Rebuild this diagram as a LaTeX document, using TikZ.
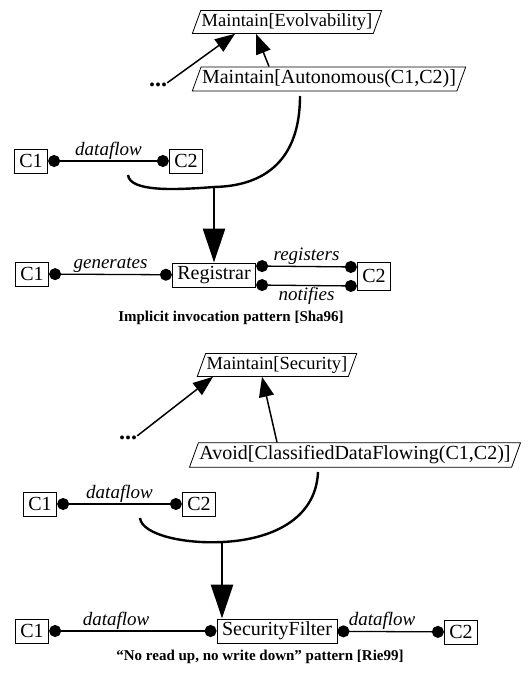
\documentclass[tikz,border=0pt]{standalone}
\usepackage{fontspec}
\setmainfont{Liberation Serif}
\usepackage{tikz}
\usetikzlibrary{
    shapes.geometric,
    arrows.meta,
    positioning
}
\newcommand{\compfont}{\fontsize{20}{22}\selectfont}
\tikzstyle{comp} = [
    rectangle, draw,
    line width=0.9pt,
    inner xsep=5pt, inner ysep=0pt,
    minimum height=24pt,
    font=\compfont
]
\tikzstyle{goal} = [
    trapezium, draw,
    trapezium left angle=70,
    trapezium right angle=110,
    line width=0.8pt,
    inner xsep=1pt, inner ysep=3pt,
    font=\compfont
]
\tikzstyle{topgoal} = [
    goal,
    font=\fontsize{18.5}{20}\selectfont
]
\tikzstyle{link} = [
    line width=1.3pt,
    {Circle[length=12pt,width=12pt]}-{Circle[length=12pt,width=12pt]}
]
\tikzstyle{lbl} = [
    font=\fontsize{19}{20}\selectfont\itshape,
    inner sep=1pt
]
\tikzstyle{refine} = [
    line width=1.5pt,
    -{Triangle[length=20pt,width=15pt]}
]
\tikzstyle{merge} = [
    line width=2.4pt
]
\tikzstyle{derive} = [
    line width=2.4pt,
    -{Triangle[length=34pt,width=22pt]}
]
\tikzstyle{caption} = [
    font=\fontsize{15}{17}\selectfont\bfseries
]
\tikzstyle{more} = [
    inner sep=0pt,
    font=\fontsize{24}{24}\selectfont\bfseries
]

\begin{document}
\begin{tikzpicture}[x=1pt, y=-1pt]
    \useasboundingbox (0,0) rectangle (529,682);

    % implicit invocation
    \node[topgoal] (evo)  at (287,22)  {Maintain[Evolvability]};
    \node[more]    (dots1) at (158,85) {...};
    \node[goal]    (auto) at (329,79)  {Maintain[Autonomous(C1,C2)]};
    \draw[refine] (dots1.north east) -- ([xshift=-52pt]evo.south);
    \draw[refine] ([xshift=-60pt]auto.north) -- ([xshift=-31pt]evo.south);

    \node[comp] (c1a) at (31,161)  {C1};
    \node[comp] (c2a) at (186,161) {C2};
    \draw[link] (c1a) -- node[lbl, above] {dataflow} (c2a);

    \coordinate (flow1) at (128,175);
    \coordinate (out1)  at (300,96);
    \coordinate (m1)    at (214,187);
    \draw[merge] (flow1) .. controls (130,192) and (175,190) .. (m1);
    \draw[merge] (out1) .. controls (300,160) and (265,186) .. (m1);

    \node[comp] (c1b) at (32,274)  {C1};
    \node[comp] (reg) at (214,275) {Registrar};
    \node[comp, minimum height=28pt] (c2b) at (374,276) {C2};
    \draw[derive] (m1) -- (m1 |- reg.north);
    \draw[link] (c1b) -- node[lbl, above] {generates} (reg);
    \draw[link] ([yshift=9pt]reg.east) -- node[lbl, above] {registers} ([yshift=9pt]c2b.west);
    \draw[link] ([yshift=-10pt]reg.east) -- node[lbl, below] {notifies} ([yshift=-10pt]c2b.west);
    \node[caption] (cap1) at (231,318) {Implicit invocation pattern [Sha96]};

    % no read up, no write down
    \node[topgoal] (sec)   at (277,365) {Maintain[Security]};
    \node[more]    (dots2) at (128,438) {...};
    \node[goal]    (avoid) at (355,455) {Avoid[ClassifiedDataFlowing(C1,C2)]};
    \draw[refine] (dots2.north east) -- ([xshift=-64pt]sec.south);
    \draw[refine] ([xshift=-78pt]avoid.north) -- ([xshift=-15pt]sec.south);

    \node[comp] (c1c) at (40,504)  {C1};
    \node[comp] (c2c) at (199,504) {C2};
    \draw[link] (c1c) -- node[lbl, above] {dataflow} (c2c);

    \coordinate (flow2) at (140,518);
    \coordinate (out2)  at (318,472);
    \coordinate (m2)    at (222,542);
    \draw[merge] (flow2) .. controls (142,535) and (185,544) .. (m2);
    \draw[merge] (out2) .. controls (316,520) and (270,540) .. (m2);

    \node[comp] (c1d)  at (32,631)  {C1};
    \node[comp] (filt) at (277,631) {SecurityFilter};
    \node[comp] (c2d)  at (461,632) {C2};
    \draw[derive] (m2) -- (m2 |- filt.north);
    \draw[link] (c1d) -- node[lbl, above, pos=0.4] {dataflow} (filt);
    \draw[link] (filt) -- node[lbl, above, pos=0.42] {dataflow} (c2d);
    \node[caption] (cap2) at (260,657) {``No read up, no write down'' pattern [Rie99]};
\end{tikzpicture}
\end{document}
